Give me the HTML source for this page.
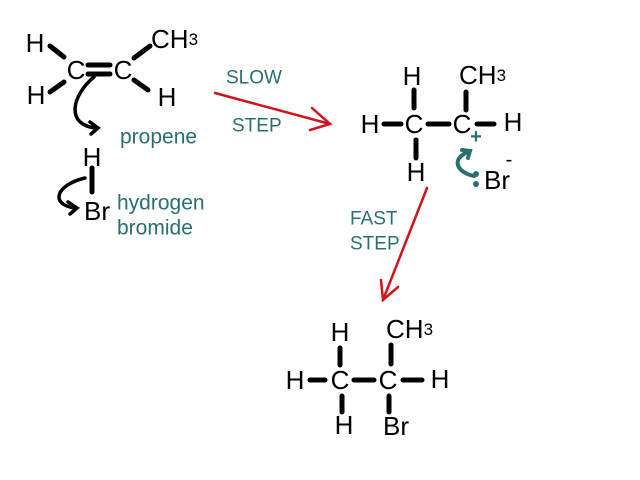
<!DOCTYPE html>
<html><head><style>
html,body{margin:0;padding:0;background:#fff}
svg{display:block}
text{font-family:"Liberation Sans",Arial,sans-serif}
.k{font-size:26px;fill:#000}
.t{font-size:21px;fill:#2a6f70}
.u{font-size:19px;fill:#2a6f70}
</style></head><body>
<svg width="640" height="480" viewBox="0 0 640 480">
<g stroke="#000" stroke-width="5" stroke-linecap="round" fill="none">
<line x1="50" y1="46" x2="64" y2="57"/>
<line x1="50" y1="92" x2="64" y2="82"/>
<line x1="88" y1="65" x2="110" y2="65"/>
<line x1="88" y1="74" x2="110" y2="74"/>
<line x1="134" y1="58" x2="150" y2="46"/>
<line x1="134" y1="80" x2="148" y2="90"/>
<line x1="92" y1="168" x2="92" y2="192"/>
<line x1="414" y1="90" x2="414" y2="108"/>
<line x1="384" y1="124" x2="401" y2="124"/>
<line x1="428" y1="124" x2="449" y2="124"/>
<line x1="466" y1="92" x2="466" y2="110"/>
<line x1="477" y1="124" x2="494" y2="124"/>
<line x1="416" y1="140" x2="416" y2="158"/>
<line x1="340" y1="348" x2="340" y2="365"/>
<line x1="310" y1="380" x2="325" y2="380"/>
<line x1="354" y1="380" x2="374" y2="380"/>
<line x1="391" y1="345" x2="391" y2="364"/>
<line x1="403" y1="380" x2="422" y2="380"/>
<line x1="342" y1="396" x2="342" y2="412"/>
<line x1="389" y1="396" x2="389" y2="412"/>
</g>
<g stroke="#000" stroke-width="3.5" fill="none" stroke-linecap="round">
<path d="M94,77 C72,95 65,125 96,128"/>
<path d="M90,122 L98,128 L91,134"/>
<path d="M85,178 C55,185 50,205 75,208"/>
<path d="M68,202 L77,208 L70,214"/>
</g>
<g stroke="#2a6f70" stroke-width="4" fill="none" stroke-linecap="round">
<path d="M474,176 C455,172 452,158 468,152"/>
<path d="M462,150 L470,151 L468,158"/>
</g>
<circle cx="476" cy="174" r="3" fill="#2a6f70"/>
<circle cx="476" cy="184" r="3" fill="#2a6f70"/>
<g stroke="#d0141a" stroke-width="2.5" fill="none" stroke-linecap="round">
<line x1="215" y1="93" x2="330" y2="124"/>
<path d="M312,108 L330,124 L310,130"/>
<line x1="427" y1="188" x2="383" y2="300"/>
<path d="M381,280 L383,300 L398,287"/>
</g>
<g text-anchor="middle" dominant-baseline="central">
<text class="k" x="35" y="43">H</text>
<text class="k" x="36" y="95">H</text>
<text class="k" x="76" y="70">C</text>
<text class="k" x="123" y="70">C</text>
<text class="k" x="167" y="97">H</text>
<text class="k" x="92" y="157">H</text>
<text class="k" x="97" y="211">Br</text>
<text class="k" x="412" y="76">H</text>
<text class="k" x="370" y="124">H</text>
<text class="k" x="414" y="124">C</text>
<text class="k" x="462" y="124">C</text>
<text class="k" x="513" y="122">H</text>
<text class="k" x="416" y="172">H</text>
<text x="476" y="137" style="font-size:20px;fill:#2a6f70;font-weight:bold">+</text>
<text class="k" x="497" y="180">Br</text>
<text x="509" y="160" style="font-size:20px;fill:#000">-</text>
<text class="k" x="340" y="332">H</text>
<text class="k" x="295" y="380">H</text>
<text class="k" x="340" y="380">C</text>
<text class="k" x="388" y="380">C</text>
<text class="k" x="440" y="379">H</text>
<text class="k" x="344" y="425">H</text>
<text class="k" x="396" y="426">Br</text>
</g>
<g dominant-baseline="central">
<text class="k" x="151" y="39">CH<tspan style="font-size:17px">3</tspan></text>
<text class="k" x="459" y="75">CH<tspan style="font-size:17px">3</tspan></text>
<text class="k" x="386" y="329">CH<tspan style="font-size:17px">3</tspan></text>
<text class="t" x="120" y="137">propene</text>
<text class="t" x="117" y="203">hydrogen</text>
<text class="t" x="117" y="228">bromide</text>
<text class="u" x="226" y="78">SLOW</text>
<text class="u" x="232" y="126">STEP</text>
<text class="u" x="350" y="219">FAST</text>
<text class="u" x="350" y="244">STEP</text>
</g>
</svg>
</body></html>
